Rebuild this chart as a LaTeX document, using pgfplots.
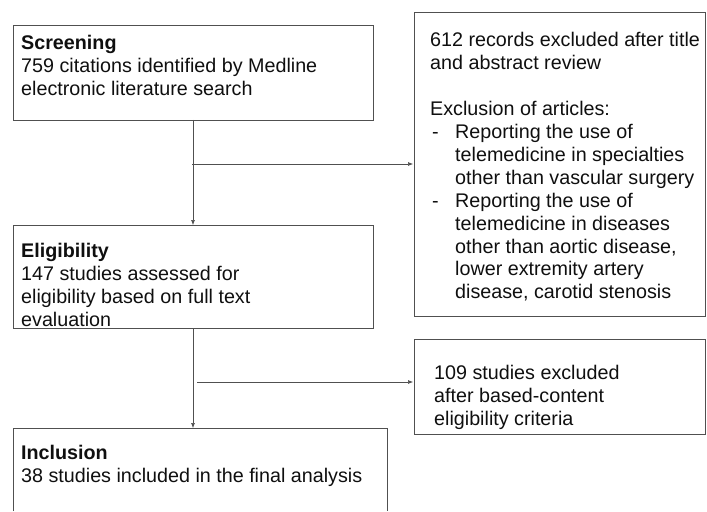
\documentclass[border=0pt]{standalone}
\usepackage{pgfplots}
\pgfplotsset{compat=1.18}
\usepackage{fontspec}
\setmainfont{Liberation Sans}
\usetikzlibrary{arrows.meta}
\definecolor{boxline}{RGB}{80,80,80}
\definecolor{txt}{RGB}{15,15,15}
\begin{document}
\begin{tikzpicture}
\begin{axis}[
  width=707bp, height=512bp, scale only axis,
  xmin=0, xmax=707, ymin=0, ymax=512, y dir=reverse,
  axis lines=none, clip=false,
]
% frame of the picture (invisible)
\addplot[draw=none] coordinates {(0,0) (707,512)};
% boxes
\addplot[boxline, line width=1pt] coordinates {(13,25) (373,25) (373,120) (13,120) (13,25)};
\addplot[boxline, line width=1pt] coordinates {(414,12) (705,12) (705,316) (414,316) (414,12)};
\addplot[boxline, line width=1pt] coordinates {(13,225) (373,225) (373,328) (13,328) (13,225)};
\addplot[boxline, line width=1pt] coordinates {(414,339) (705,339) (705,434) (414,434) (414,339)};
\addplot[boxline, line width=1pt] coordinates {(13,511) (13,428) (387,428) (387,511)};
% arrows
\addplot[boxline, line width=0.6pt, -{Latex[length=5pt,width=4pt]}] coordinates {(193,120) (193,225)};
\addplot[boxline, line width=0.6pt, -{Latex[length=5pt,width=4pt]}] coordinates {(192,164) (413,164)};
\addplot[boxline, line width=0.6pt, -{Latex[length=5pt,width=4pt]}] coordinates {(193,328) (193,428)};
\addplot[boxline, line width=0.6pt, -{Latex[length=5pt,width=4pt]}] coordinates {(197,382) (413,382)};
% texts
\tikzset{every node/.style={anchor=north west, inner sep=0pt, align=left, text=txt, font=\fontsize{19.8}{23}\selectfont}}
\node at (axis cs:21,35) {\textbf{Screening}\\759 citations identified by Medline\\electronic literature search};
\node at (axis cs:430,32) {612 records excluded after title\\and abstract review\\[23bp]Exclusion of articles:};
\node[anchor=base west] at (axis cs:432,138) {-};
\node[anchor=base west] at (axis cs:432,207) {-};
\node at (axis cs:455,124) {Reporting the use of\\telemedicine in specialties\\other than vascular surgery\\Reporting the use of\\telemedicine in diseases\\other than aortic disease,\\lower extremity artery\\disease, carotid stenosis};
\node at (axis cs:21,243) {\textbf{Eligibility}\\147 studies assessed for\\eligibility based on full text\\evaluation};
\node at (axis cs:434,365) {109 studies excluded\\after based-content\\eligibility criteria};
\node at (axis cs:21,445) {\textbf{Inclusion}\\38 studies included in the final analysis};
\end{axis}
\end{tikzpicture}
\end{document}
